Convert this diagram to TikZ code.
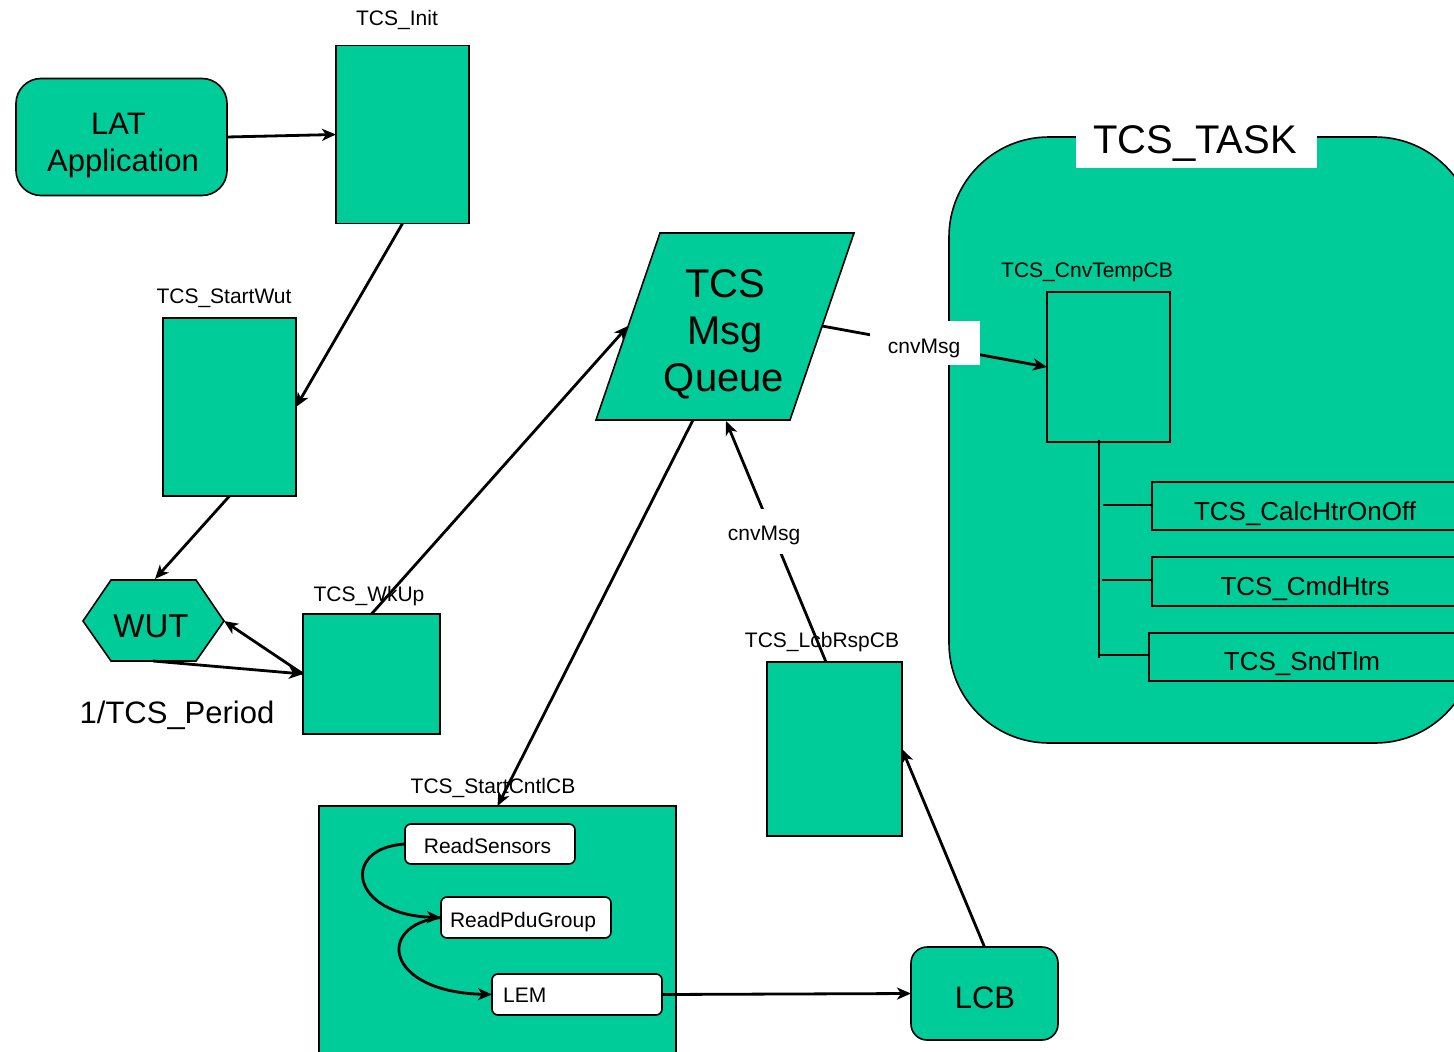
\documentclass[tikz,border=0pt]{standalone}
\usepackage{fontspec}
\setmainfont{Liberation Sans}
\usetikzlibrary{arrows.meta,calc}
\definecolor{tgreen}{RGB}{0,204,153}
\newcommand\fsLab{\fontsize{21pt}{25pt}\selectfont}
\newcommand\fsMid{\fontsize{26pt}{31pt}\selectfont}
\newcommand\fsBig{\fontsize{31pt}{37pt}\selectfont}
\newcommand\fsWut{\fontsize{33pt}{40pt}\selectfont}
\newcommand\fsHuge{\fontsize{40pt}{47pt}\selectfont}
\begin{document}
\begin{tikzpicture}[x=1pt,y=-1pt,
  box/.style={draw=black, fill=tgreen, line width=1.6pt, inner sep=0pt, outer sep=0pt},
  wbox/.style={draw=black, fill=white, line width=1.6pt, rounded corners=6pt, inner sep=0pt, outer sep=0pt},
  txt/.style={inner sep=0pt, anchor=base},
  arr/.style={line width=2.8pt, -{Stealth[length=14pt,width=12pt,inset=4pt]}},
  tline/.style={line width=1.6pt}]
\useasboundingbox (0,0) rectangle (1454,1052);
\clip (0,0) rectangle (1454,1052);

% TCS_TASK container
\node[box, rounded corners=100pt, minimum width=526pt, minimum height=606pt] (task) at (1212,440) {};
\node[fill=white, inner sep=0pt, minimum width=241pt, minimum height=56pt] (tasktitle) at (1196.5,140) {};
\node[txt, font=\fsHuge] (tasktitleT) at (1195,153) {TCS\_TASK};

% boxes
\node[box, rounded corners=25pt, minimum width=211pt, minimum height=117pt] (lat) at (121.5,137) {};
\node[txt, font=\fsBig] (latA) at (118.5,134) {LAT};
\node[txt, font=\fsBig] (latB) at (123,171) {Application};

\node[box, minimum width=133pt, minimum height=178pt] (init) at (402.5,134.5) {};
\node[txt, font=\fsLab] (initL) at (397,25.5) {TCS\_Init};

\node[box, minimum width=133pt, minimum height=178pt] (startwut) at (229.5,407) {};
\node[txt, font=\fsLab] (startwutL) at (224,303.5) {TCS\_StartWut};

% WUT hexagon
\coordinate (wutL) at (83,621);
\coordinate (wutTL) at (111,580);
\coordinate (wutTR) at (196,580);
\coordinate (wutR) at (224,621);
\coordinate (wutBR) at (196,661);
\coordinate (wutBL) at (111,661);
\coordinate (wutT) at (155,579);
\coordinate (wutB) at (153,661);
\draw[box] (wutL) -- (wutTL) -- (wutTR) -- (wutR) -- (wutBR) -- (wutBL) -- cycle;
\node[txt, font=\fsWut] (wut) at (151,637) {WUT};
\node[txt, font=\fsBig] (period) at (177,723) {1/TCS\_Period};

\node[box, minimum width=137pt, minimum height=120pt] (wkup) at (371.5,674) {};
\node[txt, font=\fsLab] (wkupL) at (369,601) {TCS\_WkUp};

% Queue parallelogram
\coordinate (qTL) at (660,233);
\coordinate (qTR) at (854,233);
\coordinate (qBR) at (790,420);
\coordinate (qBL) at (596,420);
\coordinate (qL) at (628,326);
\coordinate (qR) at (822,326);
\coordinate (qB1) at (693,420);
\coordinate (qB2) at (726,421);
\draw[box] (qTL) -- (qTR) -- (qBR) -- (qBL) -- cycle;
\node[txt, font=\fsHuge] (queueA) at (725,297) {TCS};
\node[txt, font=\fsHuge] (queueB) at (725,344) {Msg};
\node[txt, font=\fsHuge] (queueC) at (724,391) {Queue};

% StartCntlCB
\node[box, minimum width=357pt, minimum height=268pt] (startcntl) at (497.5,940) {};
\node[txt, font=\fsLab] (startcntlL) at (493,793) {TCS\_StartCntlCB};
\node[wbox, minimum width=170pt, minimum height=40pt] (rs) at (490,844) {};
\node[txt, font=\fsLab] (rsT) at (487.5,853) {ReadSensors};
\node[wbox, minimum width=170pt, minimum height=41pt] (rpg) at (526,917.5) {};
\node[txt, font=\fsLab] (rpgT) at (523,927) {ReadPduGroup};
\node[wbox, minimum width=170pt, minimum height=41pt] (lem) at (577,994.5) {};
\node[txt, font=\fsLab, anchor=base west] (lemT) at (503,1002) {LEM};

% LCB and LcbRspCB
\node[box, rounded corners=16pt, minimum width=147pt, minimum height=93pt] (lcb) at (984.5,993.5) {};
\node[txt, font=\fsBig] (lcbT) at (985,1008) {LCB};
\node[box, minimum width=135pt, minimum height=174pt] (lcbrsp) at (834.5,749) {};
\node[txt, font=\fsLab] (lcbrspL) at (822,647) {TCS\_LcbRspCB};

% inside TCS_TASK
\node[box, minimum width=123pt, minimum height=150pt] (cnv) at (1108.5,367) {};
\node[txt, font=\fsLab] (cnvL) at (1087,277) {TCS\_CnvTempCB};
\node[box, minimum width=306pt, minimum height=48pt] (calc) at (1305,506) {};
\node[txt, font=\fsMid] (calcT) at (1305,520) {TCS\_CalcHtrOnOff};
\node[box, minimum width=306pt, minimum height=49pt] (cmd) at (1305,581.5) {};
\node[txt, font=\fsMid] (cmdT) at (1305,595) {TCS\_CmdHtrs};
\node[box, minimum width=308pt, minimum height=48pt] (snd) at (1303,657) {};
\node[txt, font=\fsMid] (sndT) at (1302,670) {TCS\_SndTlm};

\coordinate (trunkTop) at (1099,440);
\coordinate (trunkBot) at (1099,658);
\draw[tline] (trunkTop) -- (trunkBot);
\draw[tline] (1103,505) -- (calc.west |- 0,505);
\draw[tline] (1102,580) -- (cmd.west |- 0,580);
\draw[tline] (1099,655) -- (snd.west |- 0,655);

% connectors
\draw[arr] (lat.east) -- (init.west);
\draw[arr] (init.south) -- (startwut.east);
\draw[arr] (startwut.south) -- (wutT);
\draw[arr] (wkup.west) -- (wutR);
\draw[arr] (wutB) -- (wkup.west);
\draw[arr] (wkup.north) -- (qL);
\draw[arr] (qB1) -- (startcntl.north);
\draw[arr] ([xshift=-8.5pt]lcbrsp.north) -- (qB2);
\draw[arr] (qR) -- (cnv.west);
\draw[arr] (lcb.north) -- (lcbrsp.east);
\draw[arr] (lem.east) -- (lcb.west);
\draw[arr] (rs.west) .. controls (340,848) and (350,915) .. (rpg.west);
\draw[arr] (rpg.west) .. controls (375,925) and (385,992) .. (lem.west);

% message labels
\node[fill=white, inner sep=0pt, minimum width=110pt, minimum height=44pt] (cm1box) at (925,343) {};
\node[txt, font=\fsLab] (cm1) at (924,353) {cnvMsg};
\node[fill=white, inner sep=0pt, minimum width=80pt, minimum height=45pt] (cm2box) at (765,531) {};
\node[txt, font=\fsLab] (cm2) at (764,540) {cnvMsg};
\end{tikzpicture}
\end{document}
